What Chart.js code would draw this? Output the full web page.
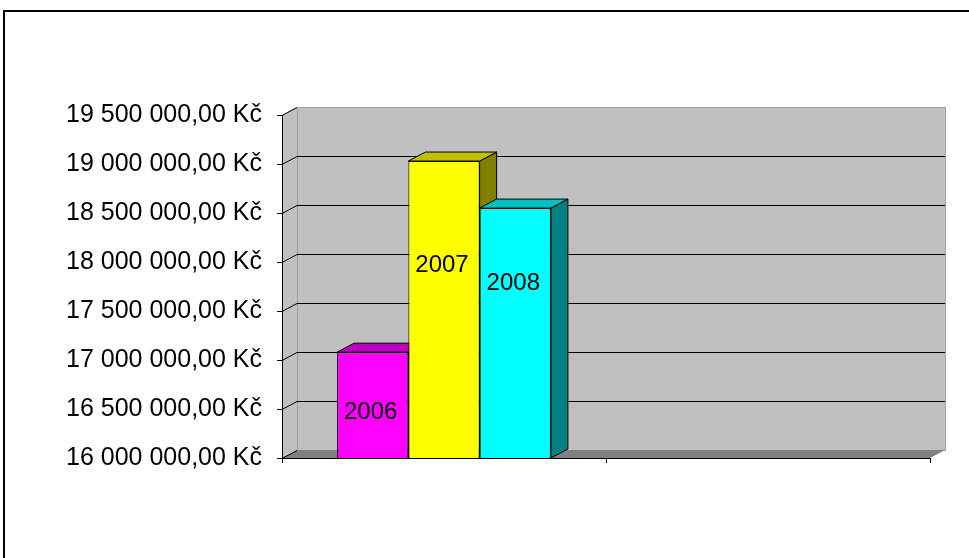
<!DOCTYPE html>
<html>
<head>
<meta charset="utf-8">
<script src="https://cdn.jsdelivr.net/npm/chart.js@4"></script>
<style>
  html, body { margin: 0; padding: 0; background: #fff; }
  #wrap { width: 969px; height: 558px; }
</style>
</head>
<body>
<div id="wrap"><canvas id="chart" width="969" height="558"></canvas></div>
<script>
// data
const categories = ['', ''];
const seriesNames = ['2006', '2007', '2008'];
const seriesValues = [17080000, 19030000, 18550000];
const yMin = 16000000, yMax = 19500000, yStep = 500000;

// colours (front / top / side)
const frontColors = ['#ff00ff', '#ffff00', '#00ffff'];
const topColors = ['#c000c0', '#c0c000', '#00c0c0'];
const sideColors = ['#800080', '#808000', '#008080'];

const DX = 15, DY = 8;       // wall depth
const BDX = 17, BDY = 9;     // bar depth

function fmtKc(v) {
  const s = Math.round(v).toString().replace(/\B(?=(\d{3})+(?!\d))/g, ' ');
  return s + ',00 Kč';
}

// walls, floor, gridlines, outer frame
const wallsPlugin = {
  id: 'walls',
  beforeDraw(chart) {
    const ctx = chart.ctx, a = chart.chartArea, y = chart.scales.y;
    ctx.save();
    ctx.strokeStyle = '#000';
    ctx.lineWidth = 2;
    ctx.strokeRect(4, 11, 1000, 600);

    // back wall + side wall
    ctx.fillStyle = '#c0c0c0';
    ctx.fillRect(a.left + DX, a.top - DY, a.right - a.left, a.bottom - a.top);
    ctx.beginPath();
    ctx.moveTo(a.left, a.top); ctx.lineTo(a.left + DX, a.top - DY);
    ctx.lineTo(a.left + DX, a.bottom - DY); ctx.lineTo(a.left, a.bottom);
    ctx.closePath(); ctx.fill();
    ctx.strokeStyle = '#a0a0a0';
    ctx.lineWidth = 1;
    ctx.strokeRect(a.left + DX + 0.5, a.top - DY + 0.5, a.right - a.left, a.bottom - a.top);

    // floor
    ctx.fillStyle = '#808080';
    ctx.beginPath();
    ctx.moveTo(a.left, a.bottom); ctx.lineTo(a.left + DX, a.bottom - DY);
    ctx.lineTo(a.right + DX, a.bottom - DY); ctx.lineTo(a.right, a.bottom);
    ctx.closePath(); ctx.fill();

    // gridlines
    ctx.strokeStyle = '#000';
    y.ticks.forEach(t => {
      const py = Math.round(y.getPixelForValue(t.value)) + 0.5;
      ctx.beginPath();
      ctx.moveTo(a.left, py);
      ctx.lineTo(a.left + DX, py - DY);
      if (t.value > yMin && t.value < yMax) ctx.lineTo(a.right + DX, py - DY);
      ctx.stroke();
    });
    ctx.restore();
  },
  beforeDatasetsDraw(chart) {
    const ctx = chart.ctx, a = chart.chartArea;
    ctx.save();
    ctx.strokeStyle = '#000';
    ctx.lineWidth = 1;
    chart.data.datasets.forEach((ds, i) => {
      const bar = chart.getDatasetMeta(i).data[0];
      const l = bar.x - bar.width / 2, r = bar.x + bar.width / 2;
      const t = bar.y, b = Math.min(bar.base, a.bottom);
      ctx.fillStyle = sideColors[i];
      ctx.beginPath();
      ctx.moveTo(r, t); ctx.lineTo(r + BDX, t - BDY);
      ctx.lineTo(r + BDX, b - BDY); ctx.lineTo(r, b);
      ctx.closePath(); ctx.fill(); ctx.stroke();
      ctx.fillStyle = topColors[i];
      ctx.beginPath();
      ctx.moveTo(l, t); ctx.lineTo(l + BDX, t - BDY);
      ctx.lineTo(r + BDX, t - BDY); ctx.lineTo(r, t);
      ctx.closePath(); ctx.fill(); ctx.stroke();
    });
    ctx.restore();
  },
  afterDatasetsDraw(chart, args, opts) {
    const ctx = chart.ctx, a = chart.chartArea;
    ctx.save();
    ctx.fillStyle = '#000';
    ctx.font = '24px "Liberation Sans", Arial, sans-serif';
    ctx.textAlign = 'center';
    ctx.textBaseline = 'middle';
    chart.data.datasets.forEach((ds, i) => {
      const bar = chart.getDatasetMeta(i).data[0];
      const b = Math.min(bar.base, a.bottom);
      const py = bar.y + (b - bar.y) * opts.labelFrac[i];
      ctx.fillText(ds.label, bar.x - 2, py);
    });
    ctx.restore();
  }
};

const datasets = seriesNames.map((name, i) => ({
  label: name,
  data: [seriesValues[i], null],
  backgroundColor: frontColors[i],
  borderColor: '#000',
  borderWidth: 1,
  borderSkipped: false,
  barPercentage: 1,
  categoryPercentage: 0.66
}));

new Chart(document.getElementById('chart'), {
  type: 'bar',
  data: { labels: categories, datasets },
  plugins: [wallsPlugin],
  options: {
    responsive: false,
    animation: false,
    layout: { padding: { left: 0, top: 115, right: 39, bottom: 90 } },
    plugins: {
      legend: { display: false },
      tooltip: { enabled: false },
      walls: { labelFrac: [0.57, 0.35, 0.30] }
    },
    scales: {
      x: {
        grid: { drawOnChartArea: false, tickLength: 5, color: '#000', offset: true },
        border: { display: true, color: '#000', width: 1 },
        ticks: { display: false },
        afterFit(s) { s.height = 10; }
      },
      y: {
        min: yMin,
        max: yMax,
        grid: { drawOnChartArea: false, tickLength: 5, color: '#000' },
        border: { display: true, color: '#000', width: 1 },
        ticks: {
          stepSize: yStep,
          padding: 15,
          color: '#000',
          font: { family: '"Liberation Sans", Arial, sans-serif', size: 25 },
          callback: v => fmtKc(v)
        },
        afterFit(s) { s.width = 282; }
      }
    }
  }
});
</script>
</body>
</html>
